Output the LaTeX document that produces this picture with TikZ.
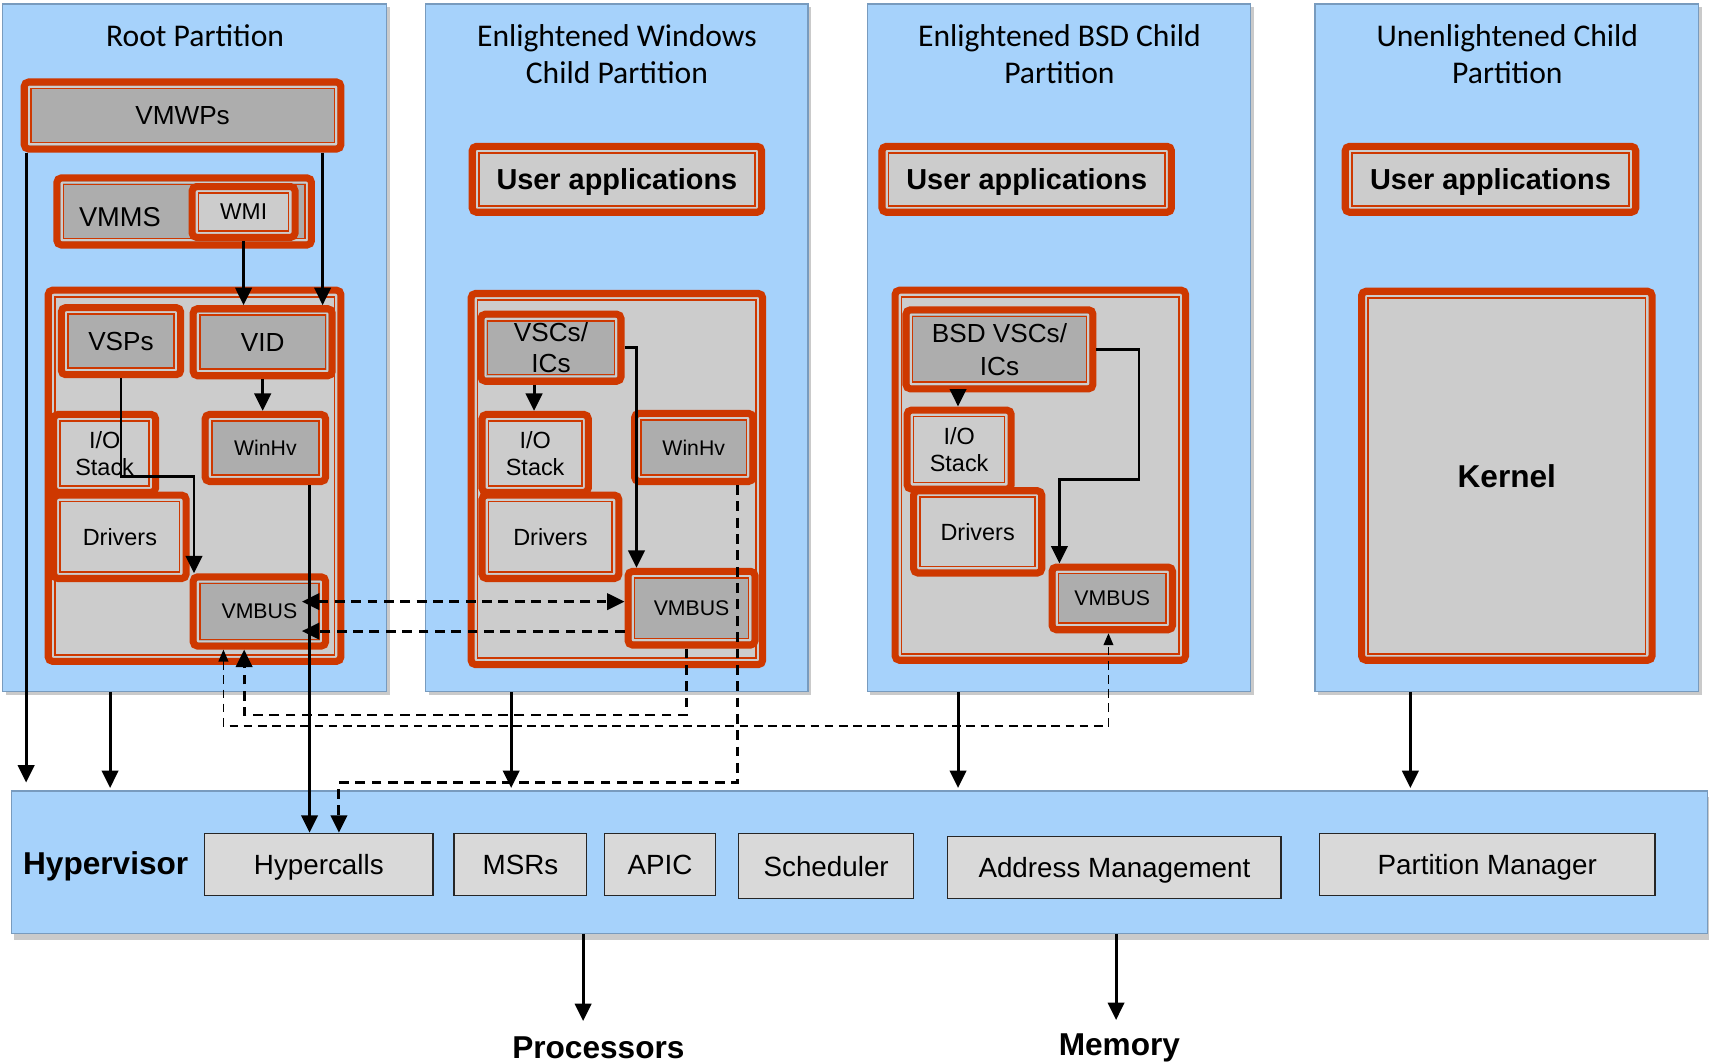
\documentclass[tikz,border=0pt]{standalone}
\usepackage{fontspec}
\setmainfont{Liberation Sans}
\newfontfamily\calib{Carlito}
\usetikzlibrary{arrows.meta,shadows}
\definecolor{ored}{RGB}{206,56,0}
\definecolor{pblue}{RGB}{166,210,251}
\definecolor{pedge}{RGB}{120,155,190}
\definecolor{dgray}{RGB}{173,173,173}
\definecolor{lgray}{RGB}{204,204,204}
\definecolor{ringc}{RGB}{205,205,205}
\definecolor{hgray}{RGB}{217,217,217}
\newcommand\fsz[2]{\fontsize{#1}{#2}\selectfont}
\newcommand\obx[8]{\node[obox, fill=#6, font=#7, minimum width={(#4-#2-6.5)*1pt}, minimum height={(#5-#3-6.5)*1pt}] (#1) at ({(#2+#4)/2},{(#3+#5)/2}) {#8};}
\newcommand\pbx[5]{\node[part, minimum width={(#4-#2-1.2)*1pt}, minimum height={(#5-#3-1.2)*1pt}] (#1) at ({(#2+#4)/2},{(#3+#5)/2}) {};}
\newcommand\hbx[6]{\node[hbox, minimum width={(#4-#2-1.2)*1pt}, minimum height={(#5-#3-1.2)*1pt}] (#1) at ({(#2+#4)/2},{(#3+#5)/2}) {#6};}
\begin{document}
\begin{tikzpicture}[x=1pt,y=-1pt,
  >={Triangle[length=16pt,width=15pt]},
  obox/.style={draw=ored, line width=6.5pt, rounded corners=4pt, inner sep=0pt, align=center, text=black, text depth=0pt,
    path picture={
      \draw[line width=1.6pt, draw=ringc, sharp corners] ([shift={(4.3pt,-4.3pt)}]path picture bounding box.north west) rectangle ([shift={(-4.3pt,4.3pt)}]path picture bounding box.south east);
      \draw[line width=1.5pt, draw=ored, sharp corners] ([shift={(6pt,-6pt)}]path picture bounding box.north west) rectangle ([shift={(-6pt,6pt)}]path picture bounding box.south east);
    }},
  part/.style={draw=pedge, line width=1.2pt, fill=pblue, inner sep=0pt,
    drop shadow={shadow xshift=3pt, shadow yshift=-3pt, opacity=0.35, fill=black!60}},
  hvbox/.style={draw=pedge, line width=1.2pt, fill=pblue, inner sep=0pt,
    drop shadow={shadow xshift=2pt, shadow yshift=-6pt, opacity=0.35, fill=black!60}},
  hbox/.style={draw=black!85, line width=1.2pt, fill=hgray, inner sep=0pt, text depth=0pt, font=\fsz{25.5}{30}},
  ttl/.style={font=\calib\fsz{29}{34}, align=center, inner sep=0pt},
  txt/.style={inner sep=0pt, align=center, text depth=0pt},
  arr/.style={line width=2.7pt, ->},
  darr/.style={line width=2.7pt, dash pattern=on 9pt off 6pt},
  tdarr/.style={line width=1.5pt, dash pattern=on 8pt off 5pt, {Triangle[length=11pt,width=9pt]}-{Triangle[length=11pt,width=9pt]}}
]
\useasboundingbox (0,0) rectangle (1568,975);
% partitions
\pbx{root}{2}{3}{355}{635}
\pbx{win}{390}{3}{742}{635}
\pbx{bsd}{795}{3}{1148}{635}
\pbx{unl}{1206}{3}{1559}{635}
\node[ttl] (troot) at (179,33) {Root Partition};
\node[ttl] (twin) at (566,50) {Enlightened Windows\\Child Partition};
\node[ttl] (tbsd) at (972,50) {Enlightened BSD Child\\Partition};
\node[ttl] (tunl) at (1383,50) {Unenlightened Child\\Partition};
% root partition
\obx{vmwp}{19}{72}{316}{140}{dgray}{\fsz{24}{29}}{VMWPs}
\obx{vmms}{49}{160}{289}{228}{dgray}{\fsz{25}{30}}{}
\node[txt, font=\fsz{25}{30}] (tvmms) at (110,199) {VMMS};
\obx{wmi}{173}{168}{274}{221}{lgray}{\fsz{21}{25}}{WMI}
\obx{rcont}{41}{263}{316}{610}{lgray}{}{}
\obx{vsp}{53}{279}{169}{347}{dgray}{\fsz{24}{29}}{VSPs}
\obx{vid}{174}{280}{308}{348}{dgray}{\fsz{24}{29}}{VID}
\obx{rio}{46}{377}{146}{455}{lgray}{\fsz{21.5}{25}}{I/O\\Stack}
\obx{rdrv}{46}{451}{174}{534}{lgray}{\fsz{21.5}{26}}{Drivers}
\obx{rwinhv}{185}{377}{302}{445}{dgray}{\fsz{19.5}{23}}{WinHv}
\obx{rvmbus}{174}{526}{302}{596}{dgray}{\fsz{19.5}{23}}{VMBUS}
% windows partition
\obx{wuser}{430}{131}{702}{198}{lgray}{\bfseries\fsz{26.5}{32}}{User applications}
\obx{wcont}{429}{266}{703}{613}{lgray}{}{}
\obx{wvsc}{438}{285}{573}{353}{dgray}{\fsz{24}{29}}{VSCs/\\ICs}
\obx{wio}{439}{377}{543}{455}{lgray}{\fsz{21.5}{25}}{I/O\\Stack}
\obx{wdrv}{439}{451}{571}{534}{lgray}{\fsz{21.5}{26}}{Drivers}
\obx{wwinhv}{579}{376}{694}{445}{dgray}{\fsz{19.5}{23}}{WinHv}
\obx{wvmbus}{573}{521}{696}{595}{dgray}{\fsz{19.5}{23}}{VMBUS}
% bsd partition
\obx{buser}{806}{131}{1078}{198}{lgray}{\bfseries\fsz{26.5}{32}}{User applications}
\obx{bcont}{818}{263}{1091}{609}{lgray}{}{}
\obx{bvsc}{828}{281}{1006}{360}{dgray}{\fsz{24}{30}}{BSD VSCs/\\ICs}
\obx{bio}{829}{373}{931}{452}{lgray}{\fsz{21.5}{25}}{I/O\\Stack}
\obx{bdrv}{835}{447}{959}{529}{lgray}{\fsz{21.5}{26}}{Drivers}
\obx{bvmbus}{962}{517}{1079}{581}{dgray}{\fsz{19.5}{23}}{VMBUS}
% unenlightened partition
\obx{uuser}{1231}{131}{1504}{198}{lgray}{\bfseries\fsz{26.5}{32}}{User applications}
\obx{kern}{1246}{264}{1519}{609}{lgray}{\bfseries\fsz{29}{35}}{Kernel}
% hypervisor
\node[hvbox, minimum width={(1567-10-1.2)*1pt}, minimum height={(857-725-1.2)*1pt}] (hv) at ({(10+1567)/2},{(725+857)/2}) {};
\node[txt, anchor=west, font=\bfseries\fsz{29}{35}] (thv) at (21,792) {Hypervisor};
\hbx{hc}{187}{764}{398}{822}{Hypercalls}
\hbx{msr}{416}{764}{539}{822}{MSRs}
\hbx{apic}{554}{764}{657}{822}{APIC}
\hbx{sched}{677}{764}{839}{825}{Scheduler}
\hbx{addr}{869}{767}{1176}{825}{Address Management}
\hbx{pm}{1210}{764}{1519}{822}{Partition Manager}
\node[txt, font=\bfseries\fsz{29}{35}] (proc) at (549,961) {Processors};
\node[txt, font=\bfseries\fsz{29}{35}] (mem) at (1027,958) {Memory};
% helper coordinates
\coordinate (X24) at (24,0);
\coordinate (X101) at (101,0);
\coordinate (X284) at (284,0);
\coordinate (X296) at (296,0);
\coordinate (X469) at (469,0);
\coordinate (X490) at (490,0);
\coordinate (X535) at (535,0);
\coordinate (X584) at (584,0);
\coordinate (X630) at (630,0);
\coordinate (X677) at (677,0);
\coordinate (X879) at (879,0);
\coordinate (X972) at (972,0);
\coordinate (X1024) at (1024,0);
\coordinate (X1294) at (1294,0);
\coordinate (Y319) at (0,319);
\coordinate (Y321) at (0,321);
\coordinate (Y552) at (0,552);
\coordinate (Y579) at (0,579);
\coordinate (P178) at (178,437);
\coordinate (Q205) at (205,666);
\coordinate (Q1017) at (1017,666);
\coordinate (Q224) at (224,656);
\coordinate (Q311) at (311,718);
\coordinate (R1045) at (1045,440);
% dashed connectors
\draw[tdarr] (rvmbus.south -| Q205) -- (Q205) -- (Q1017) -- (bvmbus.south -| Q1017);
\draw[darr, <->, shorten <=-25pt] (rvmbus.east |- Y552) -- (wvmbus.west |- Y552);
\draw[darr, ->, shorten >=-25pt] (wvmbus.west |- Y579) -- (rvmbus.east |- Y579);
\draw[darr, ->] (wvmbus.south -| X630) |- (Q224) -- (rvmbus.south -| Q224);
\draw[darr, ->] (wwinhv.south -| X677) |- (Q311) -- (hc.north -| Q311);
% solid connectors - root
\draw[arr] (wmi.south) -- (vid.north -| wmi.south);
\draw[arr] (vmwp.south -| X296) -- (vid.north -| X296);
\draw[arr, shorten >=7pt] (vmwp.south -| X24) -- (hv.north -| X24);
\draw[arr, shorten >=2pt] (root.south -| X101) -- (hv.north -| X101);
\draw[arr] (vid.south) -- (rwinhv.north -| vid.south);
\draw[arr] (vsp.south) |- (P178) -- (rvmbus.north -| P178);
\draw[arr] (rwinhv.south -| X284) -- (hc.north -| X284);
% windows
\draw[arr] (wvsc.south -| X490) -- (wio.north -| X490);
\draw[arr] (wvsc.east |- Y319) -| (wvmbus.north -| X584);
\draw[arr, shorten >=2pt] (win.south -| X469) -- (hv.north -| X469);
% bsd
\draw[arr] (bvsc.south -| X879) -- (bio.north -| X879);
\draw[arr] (bvsc.east |- Y321) -| (R1045) -| (bvmbus.north -| X972);
\draw[arr, shorten >=2pt] (bsd.south -| X879) -- (hv.north -| X879);
% unenlightened
\draw[arr, shorten >=2pt] (unl.south -| X1294) -- (hv.north -| X1294);
% hypervisor outputs
\draw[arr, shorten >=14pt] (hv.south -| X535) -- (proc.north -| X535);
\draw[arr, shorten >=12pt] (hv.south -| X1024) -- (mem.north -| X1024);
\end{tikzpicture}
\end{document}
